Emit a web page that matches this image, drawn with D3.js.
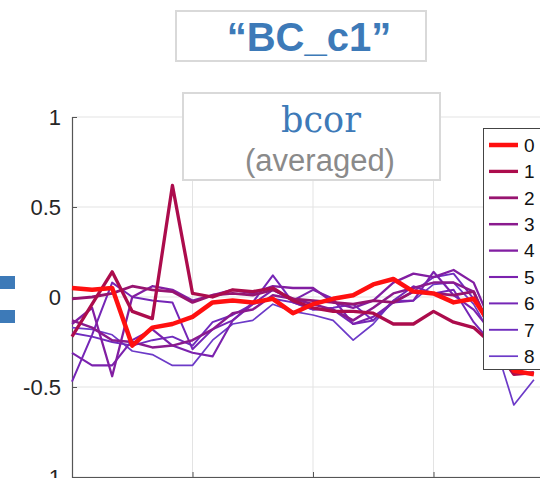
<!DOCTYPE html>
<html>
<head>
<meta charset="utf-8">
<script src="https://cdn.jsdelivr.net/npm/d3@7"></script>
<style>
  html, body { margin: 0; padding: 0; background: #fff; }
  svg { display: block; }
</style>
</head>
<body>
<svg id="chart" width="540" height="478"></svg>
<script>
// Series names shown in the legend
const seriesNames = ["0", "1", "2", "3", "4", "5", "6", "7", "8"];

// Averaged bcor per component index (24 samples each)
const s0 = [0.05, 0.04, 0.05, -0.27, -0.17, -0.15, -0.11, -0.03, -0.02, -0.03, -0.01, -0.09, -0.04, -0.01, 0.01, 0.07, 0.10, 0.03, 0.02, -0.03, -0.01, -0.18, -0.41, -0.43];
const s1 = [-0.22, -0.04, 0.14, -0.08, -0.12, 0.62, 0.02, 0.00, 0.04, 0.03, 0.05, -0.02, -0.06, -0.08, -0.08, -0.09, -0.15, -0.15, -0.08, -0.14, -0.17, -0.27, -0.43, -0.42];
const s2 = [-0.01, 0.00, 0.02, 0.06, 0.04, 0.03, -0.03, 0.01, 0.02, 0.01, 0.04, -0.01, -0.02, -0.03, -0.04, -0.02, -0.03, 0.03, 0.02, 0.01, 0.03, -0.24, -0.32, -0.38];
const s3 = [-0.13, -0.17, -0.24, -0.25, -0.28, -0.27, -0.24, -0.18, -0.09, -0.07, 0.01, -0.01, -0.04, -0.07, -0.13, -0.06, 0.02, 0.05, 0.08, 0.08, 0.03, -0.21, -0.35, -0.38];
const s4 = [-0.15, -0.06, -0.44, 0.00, 0.06, 0.04, -0.02, 0.01, 0.04, 0.02, 0.06, 0.05, 0.05, -0.03, -0.06, -0.02, 0.08, 0.13, 0.11, 0.15, 0.08, -0.18, -0.35, -0.36];
const s5 = [-0.31, -0.38, -0.38, -0.24, -0.18, -0.27, -0.31, -0.33, -0.13, -0.04, 0.04, -0.02, 0.04, -0.01, -0.15, -0.11, -0.03, -0.02, 0.14, 0.01, -0.07, -0.21, -0.35, -0.38];
const s6 = [-0.47, -0.21, 0.08, 0.00, -0.02, -0.03, -0.29, -0.18, -0.13, -0.03, 0.12, -0.03, -0.07, -0.07, -0.15, -0.13, -0.02, 0.06, 0.02, 0.04, -0.14, -0.27, -0.36, -0.39];
const s7 = [-0.20, -0.22, -0.25, -0.27, -0.24, -0.22, -0.27, -0.14, -0.10, -0.04, -0.01, -0.03, -0.07, -0.06, -0.04, -0.13, -0.03, 0.03, 0.11, 0.13, -0.01, -0.18, -0.34, -0.38];
const s8 = [-0.17, -0.18, -0.21, -0.30, -0.32, -0.38, -0.38, -0.24, -0.15, -0.13, -0.04, -0.08, -0.10, -0.13, -0.24, -0.15, -0.02, -0.02, 0.07, 0.08, -0.04, -0.24, -0.60, -0.46];
const seriesValues = [s0, s1, s2, s3, s4, s5, s6, s7, s8];

// Axis ticks
const yTicks = [-1, -0.5, 0, 0.5, 1];
const yTickLabels = ["-1", "-0.5", "0", "0.5", "1"];
const xTicks = [0, 6, 12, 18, 24];

// Styling per series: red through purple, thinning as the index grows
const colors = ["#ff1010", "#ac0c4c", "#971470", "#8a1a8e", "#821ea2", "#7b22ae", "#7526b6", "#6f2cbe", "#6c3ac8"];
const widths = [4.5, 3.3, 2.8, 2.5, 2.3, 2.1, 2.0, 1.9, 1.7];

const svg = d3.select("#chart");
const blue = "#3d7ab8";

const x = d3.scaleLinear().domain([0, 24]).range([72, 554]);
const y = d3.scaleLinear().domain([-1, 1]).range([477, 117]);

// Grid
const grid = svg.append("g");
grid.selectAll("line.h").data(yTicks).join("line")
  .attr("x1", 72).attr("x2", 540)
  .attr("y1", d => y(d)).attr("y2", d => y(d))
  .attr("stroke", "#e3e3e3").attr("stroke-width", 1);
grid.selectAll("line.v").data(xTicks.slice(1)).join("line")
  .attr("x1", d => x(d)).attr("x2", d => x(d))
  .attr("y1", y(1)).attr("y2", y(-1))
  .attr("stroke", "#e3e3e3").attr("stroke-width", 1);

// Axes
const yAxis = d3.axisLeft(y).tickValues(yTicks).tickSize(-5).tickFormat("");
const gy = svg.append("g").attr("transform", "translate(72,0)").call(yAxis);
gy.select(".domain").attr("stroke", "#555").attr("stroke-width", 1.2);
gy.selectAll(".tick line").attr("stroke", "#555");

const xAxis = d3.axisBottom(x).tickValues(xTicks).tickSize(-5).tickFormat("");
const gx = svg.append("g").attr("transform", `translate(0,${y(-1)})`).call(xAxis);
gx.select(".domain").attr("stroke", "#555");
gx.selectAll(".tick line").attr("stroke", "#555");

svg.append("g").selectAll("text").data(yTicks).join("text")
  .attr("x", 61).attr("y", d => y(d)).attr("dy", "0.36em")
  .attr("text-anchor", "end")
  .attr("font-family", "'Liberation Sans', Arial, sans-serif")
  .attr("font-size", 22).attr("fill", "#262626")
  .text((d, i) => yTickLabels[i]);

// Lines
const line = d3.line().x((d, i) => x(i)).y(d => y(d));
const order = d3.range(seriesValues.length).reverse();
svg.append("g").selectAll("path").data(order).join("path")
  .attr("d", k => line(seriesValues[k]))
  .attr("fill", "none")
  .attr("stroke", k => colors[k])
  .attr("stroke-width", k => widths[k])
  .attr("stroke-linejoin", "round");

// Legend
const lg = svg.append("g");
lg.append("rect").attr("x", 483.5).attr("y", 128.5).attr("width", 70).attr("height", 241)
  .attr("fill", "#fff").attr("stroke", "#444").attr("stroke-width", 1);
const rows = lg.selectAll("g").data(seriesNames).join("g")
  .attr("transform", (d, i) => `translate(0,${145 + i * 26.4})`);
rows.append("line").attr("x1", 489).attr("x2", 518).attr("y1", 0).attr("y2", 0)
  .attr("stroke", (d, i) => colors[i]).attr("stroke-width", (d, i) => widths[i]);
rows.append("text").attr("x", 524).attr("y", 0).attr("dy", "0.36em")
  .attr("font-family", "'Liberation Sans', Arial, sans-serif")
  .attr("font-size", 19).attr("fill", "#111")
  .text(d => d);

// Title boxes
svg.append("rect").attr("x", 176).attr("y", 11).attr("width", 250).attr("height", 50)
  .attr("fill", "#fff").attr("stroke", "#d9d9d9").attr("stroke-width", 2);
svg.append("text").attr("x", 309).attr("y", 51).attr("text-anchor", "middle")
  .attr("font-family", "'Liberation Sans', Arial, sans-serif").attr("font-weight", "bold")
  .attr("font-size", 40).attr("fill", blue)
  .text("\u201CBC_c1\u201D");

svg.append("rect").attr("x", 183).attr("y", 93).attr("width", 257).attr("height", 87)
  .attr("fill", "#fff").attr("stroke", "#d9d9d9").attr("stroke-width", 2);
svg.append("text").attr("x", 321).attr("y", 132).attr("text-anchor", "middle")
  .attr("font-family", "'DejaVu Serif', serif")
  .attr("font-size", 35).attr("fill", blue)
  .text("bcor");
svg.append("text").attr("x", 320).attr("y", 171).attr("text-anchor", "middle")
  .attr("font-family", "'Liberation Sans', Arial, sans-serif")
  .attr("font-size", 31).attr("fill", "#8a8a8a")
  .text("(averaged)");

// Equals-sign bars at the left edge
svg.append("g").selectAll("rect").data([276, 310]).join("rect")
  .attr("x", 0).attr("y", d => d).attr("width", 15).attr("height", 13)
  .attr("fill", blue);
</script>
</body>
</html>
